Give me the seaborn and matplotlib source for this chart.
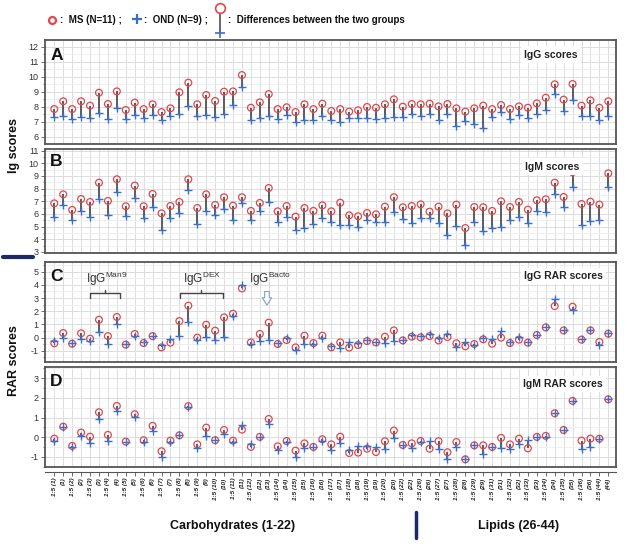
import matplotlib.pyplot as plt
import matplotlib.transforms as mtransforms
from matplotlib.lines import Line2D
from matplotlib.ticker import MultipleLocator
import numpy as np
import pandas as pd
import seaborn as sns

sns.set_theme(style="whitegrid")
plt.rcParams["font.family"] = ["Liberation Sans", "DejaVu Sans"]
plt.rcParams["mathtext.fontset"] = "custom"
plt.rcParams["mathtext.rm"] = "Liberation Sans"
plt.rcParams["axes.unicode_minus"] = False

# x categories (antigen / dilution)
tick_labels = [
    "1:5 (1)", "(1)", "1:5 (2)", "(2)", "1:5 (3)", "(3)", "1:5 (4)", "(4)",
    "1:5 (5)", "(5)", "1:5 (6)", "(6)", "1:5 (7)", "(7)", "1:5 (8)", "(8)",
    "1:5 (9)", "(9)", "1:5 (10)", "(10)", "1:5 (11)", "(11)", "1:5 (12)", "(12)",
    "(13)", "1:5 (14)", "(14)", "1:5 (15)", "(15)", "1:5 (16)", "(16)",
    "1:5 (17)", "(17)", "1:5 (18)", "(18)", "1:5 (19)", "(19)", "1:5 (20)", "(20)",
    "1:5 (22)", "(22)", "1:5 (26)", "(26)", "1:5 (27)", "(27)", "1:5 (28)", "(28)",
    "1:5 (29)", "(29)", "1:5 (31)", "(31)", "1:5 (32)", "(32)", "1:5 (33)", "(33)",
    "1:5 (34)", "(34)", "1:5 (35)", "(35)", "1:5 (36)", "(36)", "1:5 (44)", "(44)",
]

# A - IgG scores
ms_igg = [7.84, 8.36, 7.84, 8.36, 8.07, 8.93, 8.18, 9.02, 7.78, 8.27, 7.84, 8.16, 7.64, 7.89,
          8.96, 9.6, 8.16, 8.78, 8.38, 9.0, 9.02, 10.11, 7.93, 8.29, 8.84, 7.84, 7.96, 7.64,
          8.16, 7.84, 8.2, 7.71, 7.84, 7.67, 7.76, 7.98, 7.93, 8.16, 8.49, 8.0, 8.18, 8.16,
          8.2, 8.02, 8.18, 7.89, 7.67, 7.89, 8.07, 7.84, 8.11, 7.84, 8.02, 7.93, 8.22, 8.6,
          9.49, 8.47, 9.51, 8.07, 8.42, 7.93, 8.36]
ond_igg = [7.31, 7.4, 7.18, 7.33, 7.22, 7.56, 7.18, 7.89, 7.16, 7.44, 7.22, 7.44, 7.11, 7.4,
           7.51, 8.04, 7.36, 7.44, 7.31, 7.49, 8.13, 9.31, 7.09, 7.27, 7.38, 7.2, 7.42, 6.96,
           7.13, 7.13, 7.38, 7.09, 7.0, 7.22, 7.22, 7.27, 7.18, 7.22, 7.31, 7.31, 7.49, 7.38,
           7.49, 7.09, 7.51, 6.71, 7.04, 6.84, 6.56, 7.31, 7.62, 7.18, 7.44, 7.27, 7.53, 7.76,
           8.82, 7.71, 8.42, 7.36, 7.38, 7.09, 7.36]

# B - IgM scores
ms_igm = [6.84, 7.55, 6.32, 7.18, 6.95, 8.47, 7.03, 8.74, 6.61, 8.24, 6.61, 7.58, 6.05, 6.63,
          6.95, 8.74, 6.47, 7.55, 6.71, 7.32, 6.66, 7.32, 6.24, 6.87, 8.05, 6.21, 6.63, 5.79,
          6.47, 6.24, 6.68, 6.21, 6.89, 5.89, 5.82, 6.08, 5.97, 6.58, 7.32, 6.53, 6.63, 6.76,
          6.18, 6.58, 6.05, 6.74, 4.89, 6.55, 6.53, 6.24, 7.0, 6.55, 6.95, 6.34, 7.08, 7.16,
          8.47, 7.34, 9.3, 6.79, 6.97, 6.74, 9.21]
ond_igm = [5.74, 6.68, 5.53, 6.21, 5.76, 7.16, 5.95, 7.71, 5.84, 7.24, 5.66, 6.55, 4.76, 5.71,
           6.05, 7.87, 5.18, 6.24, 5.89, 6.37, 5.53, 6.84, 5.53, 6.24, 6.92, 5.37, 5.79, 4.71,
           4.87, 5.21, 5.71, 5.37, 5.13, 5.13, 5.0, 5.5, 5.37, 5.37, 6.18, 5.63, 5.26, 5.71,
           5.68, 5.26, 4.32, 5.05, 3.53, 5.37, 4.68, 4.92, 4.95, 5.53, 5.74, 5.26, 6.21, 6.16,
           7.55, 6.53, 8.16, 5.16, 5.42, 5.5, 8.11]

# C - IgG RAR scores
ms_igg_rar = [-0.44, 0.34, -0.47, 0.32, -0.09, 1.35, 0.11, 1.56, -0.54, 0.27, -0.42, 0.11, -0.75,
              -0.39, 1.25, 2.42, -0.01, 0.97, 0.52, 1.53, 1.81, 3.73, -0.37, 0.27, 1.13, -0.49,
              -0.19, -0.75, 0.14, -0.42, 0.14, -0.75, -0.37, -0.77, -0.57, -0.27, -0.37, 0.06,
              0.54, -0.22, 0.06, 0.01, 0.11, -0.22, 0.04, -0.44, -0.67, -0.49, -0.14, -0.47,
              -0.01, -0.42, -0.16, -0.39, 0.19, 0.77, 2.39, 0.54, 2.34, -0.16, 0.54, -0.34, 0.29]
ond_igg_rar = [-0.27, -0.06, -0.42, -0.14, -0.27, 0.39, -0.47, 1.0, -0.52, 0.14, -0.37, 0.11, -0.57,
               -0.11, 0.11, 1.2, -0.16, 0.04, -0.22, 0.04, 1.66, 3.99, -0.52, -0.27, -0.19, -0.44,
               -0.06, -0.95, -0.47, -0.47, -0.06, -0.62, -0.82, -0.37, -0.42, -0.22, -0.37, -0.44,
               -0.24, -0.19, 0.19, 0.09, 0.24, -0.06, 0.29, -0.72, -0.37, -0.57, -0.06, -0.11,
               0.49, -0.37, 0.06, -0.37, 0.19, 0.82, 2.92, 0.59, 2.11, -0.11, 0.54, -0.57, 0.34]

# D - IgM RAR scores
ms_igm_rar = [-0.07, 0.54, -0.44, 0.24, 0.03, 1.27, 0.12, 1.59, -0.22, 1.17, -0.15, 0.58, -0.71,
              -0.17, 0.1, 1.58, -0.36, 0.49, -0.15, 0.37, -0.17, 0.39, -0.49, 0.02, 0.93, -0.46,
              -0.19, -0.68, -0.31, -0.49, -0.1, -0.36, 0.03, -0.8, -0.78, -0.58, -0.75, -0.2,
              0.34, -0.39, -0.31, -0.19, -0.58, -0.2, -0.76, -0.24, -1.12, -0.41, -0.41, -0.49,
              -0.03, -0.36, -0.07, -0.56, 0.02, 0.07, 1.22, 0.37, 1.85, -0.17, -0.07, -0.07, 1.93]
ond_igm_rar = [-0.2, 0.54, -0.51, 0.07, -0.31, 0.92, -0.17, 1.36, -0.22, 1.02, -0.25, 0.34, -0.98,
               -0.22, 0.1, 1.54, -0.56, 0.08, -0.15, 0.17, -0.22, 0.61, -0.34, 0.02, 0.66, -0.64,
               -0.25, -0.98, -0.56, -0.49, -0.17, -0.64, -0.31, -0.64, -0.44, -0.44, -0.51, -0.61,
               -0.03, -0.39, -0.56, -0.24, -0.2, -0.58, -1.08, -0.51, -1.12, -0.41, -0.85, -0.49,
               -0.54, -0.58, -0.34, -0.14, 0.02, 0.03, 1.22, 0.37, 1.85, -0.61, -0.51, -0.07, 1.93]

RED = "#e0474c"
BLUE = "#3a6fc6"
STEM = "#505050"
FRAME = "#555555"
NAVY = "#1b2a6b"

W, H = 627, 544


def px(x, y):
    return x / W, 1 - y / H


fig = plt.figure(figsize=(W / 100, H / 100), dpi=100)
x = np.arange(len(tick_labels))

panels = [
    # letter, title, ms, ond, top, bottom (px), ylim, yticks, title pos, letter y
    ("A", "IgG scores", ms_igg, ond_igg, 40, 144, (5.51, 12.45), range(6, 13), (0.933, 0.86), 0.85),
    ("B", "IgM scores", ms_igm, ond_igm, 149, 253, (2.92, 11.13), range(3, 12), (0.936, 0.83), 0.88),
    ("C", "IgG RAR scores", ms_igg_rar, ond_igg_rar, 262, 362, (-1.86, 5.74), range(-1, 6), (0.977, 0.86), 0.855),
    ("D", "IgM RAR scores", ms_igm_rar, ond_igm_rar, 367, 467, (-1.51, 3.57), range(-1, 4), (0.977, 0.83), 0.855),
]

axes = []
for letter, title, ms, ond, top, bot, ylim, yticks, tpos, lpos in panels:
    ax = fig.add_axes([45 / W, 1 - bot / H, 571 / W, (bot - top) / H])
    df = pd.DataFrame({"x": x, "ms": ms, "ond": ond})
    ax.vlines(df["x"], df["ond"], df["ms"], color=STEM, lw=1.3, zorder=2)
    sns.scatterplot(data=df, x="x", y="ms", marker="o", s=24, facecolor="none",
                    edgecolor=RED, linewidth=0.9, ax=ax, zorder=3)
    sns.scatterplot(data=df, x="x", y="ond", marker="+", s=28, color=BLUE,
                    linewidth=1.0, ax=ax, zorder=4)
    ax.set_xlim(-1.04, 62.86)
    ax.set_ylim(*ylim)
    ax.set_xticks(x)
    ax.set_yticks(list(yticks))
    ax.yaxis.set_minor_locator(MultipleLocator(0.5))
    ax.grid(which="major", color="#dcdcdc", lw=0.7)
    ax.grid(which="minor", axis="y", color="#ededed", lw=0.6)
    ax.set_xlabel("")
    ax.set_ylabel("")
    ax.tick_params(axis="x", bottom=False, labelbottom=False)
    ax.tick_params(axis="y", which="major", left=True, length=3, width=0.6, color=FRAME,
                   labelsize=6.5, labelcolor="#333333", pad=1.5)
    ax.tick_params(axis="y", which="minor", left=True, length=1.5, width=0.5, color=FRAME)
    for sp in ax.spines.values():
        sp.set_color(FRAME)
        sp.set_linewidth(1.3)
    ax.text(0.009, lpos, letter, transform=ax.transAxes, ha="left", va="center",
            fontsize=12.5, fontweight="bold", color="#111111")
    ax.text(tpos[0], tpos[1], title, transform=ax.transAxes, ha="right", va="center",
            fontsize=7.5, fontweight="bold", color="#222222", zorder=6,
            bbox={"facecolor": "white", "edgecolor": "none", "pad": 2.5})
    axes.append(ax)

ax_a, ax_b, ax_c, ax_d = axes

# annotations in panel C
for xc, label in [(5.9, r"IgG$^{\mathrm{Man9}}$"), (16.5, r"IgG$^{\mathrm{DEX}}$"),
                  (24.1, r"IgG$^{\mathrm{Bacto}}$")]:
    ax_c.text(xc, 4.44, label, ha="center", va="center", fontsize=8.5, color="#333333")
for x0, x1, xm in [(4.0, 7.35, 5.7), (14.1, 18.9, 16.4)]:
    ax_c.plot([x0, x0, x1, x1], [3.03, 3.4, 3.4, 3.03], color="#444444", lw=1.0)
    ax_c.plot([xm, xm], [3.4, 3.65], color="#444444", lw=1.0)
ax_c.annotate("", xy=(23.8, 2.45), xytext=(23.8, 3.5),
              arrowprops=dict(arrowstyle="simple,head_length=0.9,head_width=1.1,tail_width=0.55",
                              mutation_scale=6, shrinkA=0, shrinkB=0,
                              fc="white", ec="#7fa0d0", lw=0.8))

# tick labels on a detached axis below panel D
sec = ax_d.secondary_xaxis(-0.05)
sec.set_xticks(x)
sec.set_xticklabels(tick_labels, rotation=90, fontsize=4.6, fontweight="bold",
                    fontstyle="italic", color="#222222")
sec.tick_params(length=3, width=0.6, color=FRAME, direction="out", pad=1)
sec.spines["bottom"].set_color(FRAME)
sec.spines["bottom"].set_linewidth(0.8)
sec.grid(False)

blend = mtransforms.blended_transform_factory(ax_d.transData, fig.transFigure)
fig.text(20, 1 - 526 / H, "Carbohydrates (1-22)", transform=blend, ha="center", va="center",
         fontsize=9, fontweight="bold", color="#111111")
fig.text(52, 1 - 526 / H, "Lipids (26-44)", transform=blend, ha="center", va="center",
         fontsize=9, fontweight="bold", color="#111111")
fig.add_artist(Line2D([40.5, 40.5], [1 - 512 / H, 1 - 538 / H], transform=blend,
                      color=NAVY, lw=2.5))

# y labels
fig.text(*px(14, 146), "Ig scores", rotation=90, ha="center", va="center",
         fontsize=9, fontweight="bold", color="#111111")
fig.text(*px(14, 361), "RAR scores", rotation=90, ha="center", va="center",
         fontsize=9, fontweight="bold", color="#111111")
fig.add_artist(Line2D([3 / W, 33 / W], [1 - 257 / H] * 2, transform=fig.transFigure,
                      color=NAVY, lw=3))

# legend
fig.add_artist(Line2D([52 / W], [1 - 20 / H], transform=fig.transFigure, marker="o",
                      markersize=5, mfc="none", mec=RED, mew=1.6))
fig.text(*px(60, 20), ":  MS (N=11) ;", ha="left", va="center", fontsize=7,
         fontweight="bold", color="#111111")
fig.add_artist(Line2D([137 / W], [1 - 19 / H], transform=fig.transFigure, marker="+",
                      markersize=7, mec=BLUE, mew=1.6))
fig.text(*px(144, 20), ":  OND (N=9) ;", ha="left", va="center", fontsize=7,
         fontweight="bold", color="#111111")
fig.add_artist(Line2D([220 / W, 220 / W], [1 - 13 / H, 1 - 33 / H], transform=fig.transFigure,
                      color=STEM, lw=1.2))
fig.add_artist(Line2D([220 / W], [1 - 8 / H], transform=fig.transFigure, marker="o",
                      markersize=7, mfc="white", mec=RED, mew=1.2))
fig.add_artist(Line2D([220 / W], [1 - 33 / H], transform=fig.transFigure, marker="+",
                      markersize=7, mec=BLUE, mew=1.2))
fig.text(*px(228, 20), ":  Differences between the two groups", ha="left", va="center",
         fontsize=7, fontweight="bold", color="#111111")

fig.savefig("out.png", dpi=100)
